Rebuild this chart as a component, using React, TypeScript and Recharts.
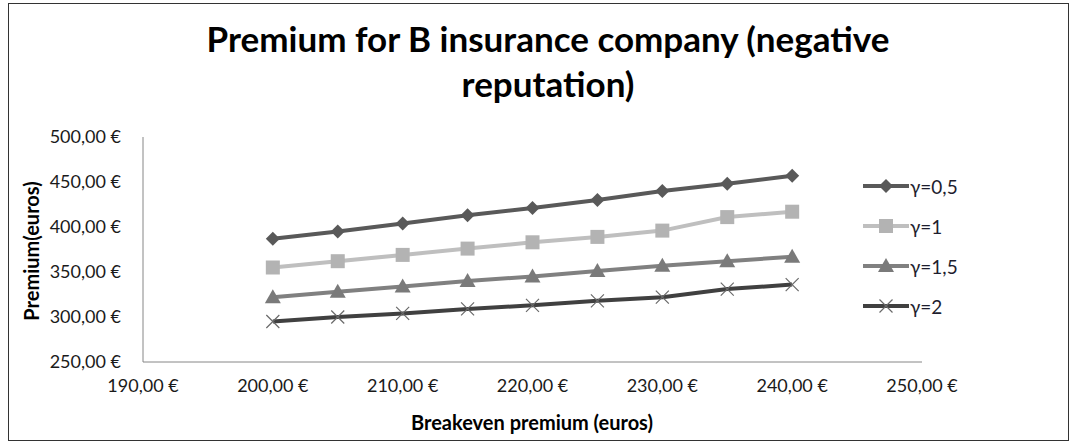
import React from 'react';
import { LineChart, Line, XAxis, YAxis, Legend } from 'recharts';

// breakeven premium (x) and premium for each gamma (y)
const breakeven = [200, 205, 210, 215, 220, 225, 230, 235, 240];
const gamma05 = [387, 395, 404, 413, 421, 430, 440, 448, 457];
const gamma1 = [355, 362, 369, 376, 383, 389, 396, 411, 417];
const gamma15 = [322, 328, 334, 340, 345, 351, 357, 362, 367];
const gamma2 = [295, 300, 304, 309, 313, 318, 322, 331, 336];

const xTicks = [190, 200, 210, 220, 230, 240, 250];
const yTicks = [250, 300, 350, 400, 450, 500];

const data = breakeven.map((b, i) => ({
  b,
  g05: gamma05[i],
  g1: gamma1[i],
  g15: gamma15[i],
  g2: gamma2[i],
}));

const FONT = 'Lato, "Open Sans", sans-serif';
const euro = (v: number) => `${v.toFixed(2).replace('.', ',')} €`;

type Shape = 'diamond' | 'square' | 'triangle' | 'cross';

const series: { key: string; name: string; color: string; marker: string; shape: Shape }[] = [
  { key: 'g05', name: 'γ=0,5', color: '#595959', marker: '#595959', shape: 'diamond' },
  { key: 'g1', name: 'γ=1', color: '#bfbfbf', marker: '#b3b3b3', shape: 'square' },
  { key: 'g15', name: 'γ=1,5', color: '#808080', marker: '#7a7a7a', shape: 'triangle' },
  { key: 'g2', name: 'γ=2', color: '#404040', marker: '#6a6a6a', shape: 'cross' },
];

function marker(shape: Shape, cx: number, cy: number, color: string, key?: string) {
  if (shape === 'diamond') {
    const r = 7;
    return <path key={key} d={`M${cx},${cy - r}L${cx + r},${cy}L${cx},${cy + r}L${cx - r},${cy}Z`} fill={color} />;
  }
  if (shape === 'square') {
    const r = 7;
    return <rect key={key} x={cx - r} y={cy - r} width={2 * r} height={2 * r} fill={color} />;
  }
  if (shape === 'triangle') {
    const r = 8;
    return <path key={key} d={`M${cx},${cy - r}L${cx + r},${cy + r * 0.75}L${cx - r},${cy + r * 0.75}Z`} fill={color} />;
  }
  const r = 6.5;
  return (
    <path
      key={key}
      d={`M${cx - r},${cy - r}L${cx + r},${cy + r}M${cx + r},${cy - r}L${cx - r},${cy + r}`}
      stroke={color}
      strokeWidth={1.2}
      fill="none"
    />
  );
}

function LegendBox() {
  return (
    <div style={{ fontFamily: FONT }}>
      {series.map((s) => (
        <div key={s.key} style={{ display: 'flex', alignItems: 'center', height: 40 }}>
          <svg width={46} height={20}>
            <line x1={0} y1={10} x2={46} y2={10} stroke={s.color} strokeWidth={4} />
            {marker(s.shape, 23, 10, s.marker)}
          </svg>
          <span style={{ fontSize: 19, color: '#1e1e2e', marginLeft: 1 }}>{s.name}</span>
        </div>
      ))}
    </div>
  );
}

export default function App() {
  return (
    <div style={{ position: 'relative', width: 1077, height: 446, background: '#fff' }}>
      <style>{'body{margin:0;}'}</style>
      <div
        style={{
          position: 'absolute',
          left: 8,
          top: 3,
          width: 1059,
          height: 436,
          border: '1px solid #333',
        }}
      />
      <div
        style={{
          position: 'absolute',
          left: 0,
          top: 16,
          width: 1096,
          textAlign: 'center',
          fontFamily: FONT,
          fontWeight: 700,
          fontSize: 35,
          lineHeight: '45px',
          color: '#000',
        }}
      >
        Premium for B insurance company (negative
        <br />
        reputation)
      </div>
      <div
        style={{
          position: 'absolute',
          left: 31,
          top: 251,
          transform: 'translate(-50%, -50%) rotate(-90deg)',
          fontFamily: FONT,
          fontWeight: 700,
          fontSize: 20,
          whiteSpace: 'nowrap',
        }}
      >
        Premium(euros)
      </div>
      <div
        style={{
          position: 'absolute',
          left: 532,
          top: 422,
          transform: 'translate(-50%, -50%)',
          fontFamily: FONT,
          fontWeight: 700,
          fontSize: 20,
          whiteSpace: 'nowrap',
        }}
      >
        Breakeven premium (euros)
      </div>
      <div style={{ position: 'absolute', left: 0, top: 0 }}>
        <LineChart width={1077} height={446} data={data} margin={{ top: 137, right: 155, bottom: 0, left: 0 }}>
          <XAxis
            dataKey="b"
            type="number"
            domain={[190, 250]}
            ticks={xTicks}
            tickFormatter={euro}
            height={84}
            tickLine={false}
            tickSize={0}
            tickMargin={17}
            axisLine={{ stroke: '#868686', strokeWidth: 1 }}
            tick={{ fontFamily: FONT, fontSize: 18, fill: '#1a1a1a' }}
            interval={0}
          />
          <YAxis
            type="number"
            domain={[250, 500]}
            ticks={yTicks}
            tickFormatter={euro}
            width={143}
            tickLine={false}
            tickSize={0}
            tickMargin={22}
            axisLine={{ stroke: '#868686', strokeWidth: 1 }}
            tick={{ fontFamily: FONT, fontSize: 18, fill: '#1a1a1a' }}
            interval={0}
          />
          <Legend
            layout="vertical"
            align="center"
            verticalAlign="middle"
            wrapperStyle={{ left: 863, top: 166, width: 160 }}
            content={() => <LegendBox />}
          />
          {series.map((s) => (
            <Line
              key={s.key}
              dataKey={s.key}
              name={s.name}
              stroke={s.color}
              strokeWidth={4}
              isAnimationActive={false}
              dot={(p: any) => marker(s.shape, p.cx, p.cy, s.marker, `${s.key}-${p.index}`)}
              activeDot={false}
            />
          ))}
        </LineChart>
      </div>
    </div>
  );
}
